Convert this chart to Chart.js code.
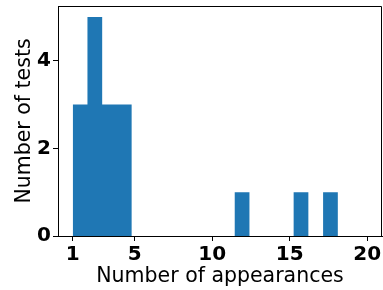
<!DOCTYPE html>
<html>
<head>
<meta charset="utf-8">
<script src="https://cdn.jsdelivr.net/npm/chart.js@4.4.0/dist/chart.umd.min.js"></script>
<style>
html, body { margin: 0; padding: 0; background: #fff; }
</style>
</head>
<body>
<canvas id="chart" width="383" height="290"></canvas>
<script>
const binEdges = [1, 1.95, 2.9, 3.85, 4.8, 5.75, 6.7, 7.65, 8.6, 9.55, 10.5, 11.45, 12.4, 13.35, 14.3, 15.25, 16.2, 17.15, 18.1, 19.05, 20];
const counts = [3, 5, 3, 3, 0, 0, 0, 0, 0, 0, 0, 1, 0, 0, 0, 1, 0, 1, 0, 0];
const xTicks = [1, 5, 10, 15, 20];
const yTicks = [0, 2, 4];

const barColor = "#1f77b4";
const tickFont = { family: "DejaVu Sans", size: 20, weight: "bold" };
const titleFont = { family: "DejaVu Sans", size: 20.5, lineHeight: 1.2 };

// histogram as a filled step outline: each bin starts at its left edge,
// last point closes the outline at the right edge
const steps = counts.map((c, i) => ({ x: binEdges[i], y: c }));
steps.push({ x: binEdges[binEdges.length - 1], y: 0 });

// matplotlib style closed frame
const frame = {
    id: "frame",
    afterDraw(chart) {
        const { ctx, chartArea: a } = chart;
        ctx.save();
        ctx.strokeStyle = "#000";
        ctx.lineWidth = 1;
        ctx.beginPath();
        ctx.moveTo(a.left, a.top + 0.5);
        ctx.lineTo(a.right - 0.5, a.top + 0.5);
        ctx.lineTo(a.right - 0.5, a.bottom);
        ctx.stroke();
        ctx.restore();
    }
};

function noPad(s) {
    s.paddingTop = 0;
    s.paddingBottom = 0;
    s.paddingLeft = 0;
    s.paddingRight = 0;
}

new Chart(document.getElementById("chart"), {
    type: "line",
    data: {
        datasets: [{
            data: steps,
            stepped: "before",
            fill: "origin",
            backgroundColor: barColor,
            borderColor: "rgba(0,0,0,0)",
            borderWidth: 0,
            pointRadius: 0
        }]
    },
    options: {
        responsive: false,
        animation: false,
        layout: { padding: { top: 6, right: 1, left: 0, bottom: 0 } },
        plugins: { legend: { display: false }, tooltip: { enabled: false } },
        scales: {
            x: {
                type: "linear",
                min: 0.05,
                max: 20.95,
                afterBuildTicks: s => { s.ticks = xTicks.map(v => ({ value: v })); },
                afterFit: s => { s.height = 54; noPad(s); },
                grid: { drawOnChartArea: false, tickLength: 5, color: "#000" },
                border: { color: "#000", width: 1 },
                ticks: { color: "#000", font: tickFont, padding: 2, maxRotation: 0, autoSkip: false },
                title: { display: true, text: "Number of appearances", color: "#000", font: titleFont, padding: { top: 0, bottom: 1 } }
            },
            y: {
                min: 0,
                max: 5.25,
                afterBuildTicks: s => { s.ticks = yTicks.map(v => ({ value: v })); },
                afterFit: s => { s.width = 58; noPad(s); },
                grid: { drawOnChartArea: false, tickLength: 5, color: "#000" },
                border: { color: "#000", width: 1 },
                ticks: { color: "#000", font: tickFont, padding: 2 },
                title: { display: true, text: "Number of tests", color: "#000", font: titleFont, padding: { top: 12, bottom: 0 } }
            }
        }
    },
    plugins: [frame]
});
</script>
</body>
</html>
